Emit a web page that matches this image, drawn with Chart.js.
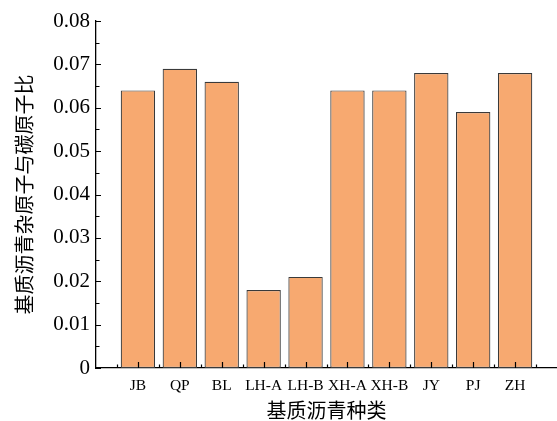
<!DOCTYPE html>
<html>
<head>
<meta charset="utf-8">
<script src="https://cdn.jsdelivr.net/npm/chart.js@4.4.0/dist/chart.umd.min.js"></script>
<style>
  html, body { margin: 0; padding: 0; background: #fff; }
  #wrap { width: 557px; height: 421px; }
</style>
</head>
<body>
<div id="wrap"><canvas id="chart"></canvas></div>
<script>
const categories = ['JB', 'QP', 'BL', 'LH-A', 'LH-B', 'XH-A', 'XH-B', 'JY', 'PJ', 'ZH'];
const ratios = [0.064, 0.069, 0.066, 0.018, 0.021, 0.064, 0.064, 0.068, 0.059, 0.068];
const yTickValues = [0, 0.01, 0.02, 0.03, 0.04, 0.05, 0.06, 0.07, 0.08];

const serif = '"Liberation Serif", "Times New Roman", serif';
const cjk = '"Noto Sans CJK SC", sans-serif';

// inward major/minor tick marks on both axes, drawn over the bars
const innerTicks = {
    id: 'innerTicks',
    afterDatasetsDraw(chart) {
        const ctx = chart.ctx;
        const x = chart.scales.x;
        const y = chart.scales.y;
        const bottom = y.getPixelForValue(0);
        const left = x.left;
        ctx.save();
        ctx.strokeStyle = '#000';
        ctx.lineWidth = 1.2;
        ctx.beginPath();
        categories.forEach(function (c, i) {
            let px = Math.round(x.getPixelForValue(i)) + 0.5;
            ctx.moveTo(px, bottom);
            ctx.lineTo(px, bottom - 6);
        });
        for (let i = -0.5; i < categories.length; i += 1) {
            let px = Math.round(x.getPixelForValue(i)) + 0.5;
            ctx.moveTo(px, bottom);
            ctx.lineTo(px, bottom - 3.5);
        }
        yTickValues.forEach(function (v, i) {
            let py = Math.round(y.getPixelForValue(v)) + 0.5;
            ctx.moveTo(left, py);
            ctx.lineTo(left + 5, py);
            if (i > 0) {
                let my = Math.round(y.getPixelForValue(v - 0.005)) + 0.5;
                ctx.moveTo(left, my);
                ctx.lineTo(left + 3.5, my);
            }
        });
        ctx.stroke();
        ctx.restore();
    }
};

new Chart(document.getElementById('chart'), {
    type: 'bar',
    data: {
        datasets: [{
            data: ratios.map(function (v, i) { return { x: i, y: v }; }),
            backgroundColor: '#F7A970',
            borderColor: '#3a3a3a',
            borderWidth: 1.2,
            borderSkipped: false,
            barPercentage: 0.82,
            categoryPercentage: 1
        }]
    },
    options: {
        responsive: true,
        maintainAspectRatio: false,
        animation: false,
        layout: { padding: { top: 21, right: 0, left: 0, bottom: 0 } },
        plugins: {
            legend: { display: false },
            tooltip: { enabled: false }
        },
        scales: {
            x: {
                type: 'linear',
                min: -1,
                max: 10,
                offset: false,
                afterBuildTicks: function (scale) {
                    scale.ticks = categories.map(function (c, i) { return { value: i }; });
                },
                afterFit: function (scale) { scale.height = 53; },
                grid: { display: false, drawTicks: false },
                border: { display: true, color: '#000', width: 1.3 },
                ticks: {
                    autoSkip: false,
                    maxRotation: 0,
                    padding: 9,
                    color: '#000',
                    font: { family: serif, size: 15.5 },
                    callback: function (v) { return categories[v]; }
                },
                title: {
                    display: true,
                    text: '基质沥青种类',
                    color: '#000',
                    font: { family: cjk, size: 20, lineHeight: 1.1 },
                    padding: 0
                }
            },
            y: {
                min: 0,
                max: 0.08,
                afterBuildTicks: function (scale) {
                    scale.ticks = yTickValues.map(function (v) { return { value: v }; });
                },
                afterFit: function (scale) { scale.width = 96; },
                grid: { display: false, drawTicks: false },
                border: { display: true, color: '#000', width: 1.3 },
                ticks: {
                    padding: 6,
                    color: '#000',
                    font: { family: serif, size: 21 },
                    callback: function (v) { return v === 0 ? '0' : v.toFixed(2); }
                },
                title: {
                    display: true,
                    text: '基质沥青杂原子与碳原子比',
                    color: '#000',
                    font: { family: cjk, size: 20, lineHeight: 1.2 },
                    padding: { top: 12, bottom: 0 }
                }
            }
        }
    },
    plugins: [innerTicks]
});
</script>
</body>
</html>
